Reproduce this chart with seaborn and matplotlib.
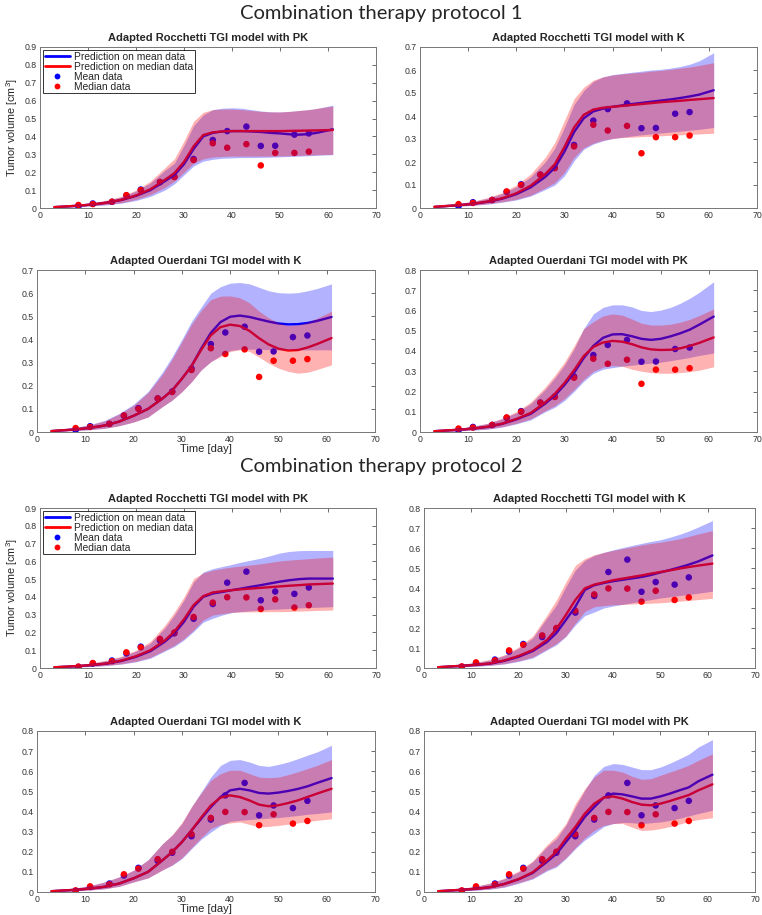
import numpy as np
import pandas as pd
import matplotlib
matplotlib.use("Agg")
import matplotlib.pyplot as plt
from matplotlib.lines import Line2D
import seaborn as sns

# ---------------------------------------------------------------- data
# measurement days
DAYS = [8, 11, 15, 18, 21, 25, 28, 32, 36, 39, 43, 46, 49, 53, 56]

# protocol 1 observations
P1_MEAN = [0.008, 0.025, 0.035, 0.07, 0.103, 0.145, 0.175, 0.274, 0.38, 0.43, 0.455, 0.347, 0.348, 0.41, 0.417]
P1_MEDIAN = [0.017, 0.022, 0.035, 0.072, 0.1, 0.145, 0.173, 0.268, 0.362, 0.337, 0.357, 0.238, 0.308, 0.308, 0.315]

# protocol 2 observations
P2_MEAN = [0.006, 0.025, 0.042, 0.082, 0.12, 0.155, 0.195, 0.277, 0.36, 0.48, 0.542, 0.381, 0.43, 0.417, 0.453]
P2_MEDIAN = [0.008, 0.028, 0.038, 0.088, 0.116, 0.163, 0.2, 0.287, 0.368, 0.398, 0.397, 0.332, 0.386, 0.34, 0.353]

# model output time grid
T = [3, 5, 8, 11, 14, 17, 20, 23, 26, 28, 30, 32, 34, 36, 38, 40, 42, 44, 46, 48, 50, 52, 54, 56, 58, 61]

# Protocol 1, Rocchetti with PK
A_MEAN = [0.005, 0.008, 0.013, 0.02, 0.03, 0.045, 0.068, 0.1, 0.15, 0.185, 0.245, 0.33, 0.4, 0.42, 0.428, 0.43, 0.43, 0.428, 0.425, 0.42, 0.417, 0.412, 0.41, 0.413, 0.422, 0.44]
A_MED = [0.005, 0.008, 0.013, 0.02, 0.03, 0.046, 0.07, 0.105, 0.157, 0.195, 0.258, 0.345, 0.408, 0.423, 0.428, 0.43, 0.43, 0.43, 0.43, 0.43, 0.43, 0.431, 0.432, 0.433, 0.434, 0.436]
A_MEAN_HI = [0.008, 0.012, 0.019, 0.028, 0.042, 0.062, 0.095, 0.14, 0.21, 0.25, 0.35, 0.46, 0.52, 0.55, 0.558, 0.56, 0.558, 0.55, 0.542, 0.538, 0.537, 0.54, 0.545, 0.55, 0.558, 0.575]
A_MED_HI = [0.008, 0.012, 0.02, 0.03, 0.045, 0.066, 0.1, 0.15, 0.225, 0.275, 0.375, 0.485, 0.535, 0.55, 0.553, 0.553, 0.55, 0.545, 0.54, 0.537, 0.537, 0.54, 0.545, 0.55, 0.558, 0.57]
A_MEAN_LO = [0.003, 0.005, 0.008, 0.012, 0.018, 0.027, 0.042, 0.065, 0.1, 0.135, 0.185, 0.235, 0.262, 0.272, 0.278, 0.28, 0.282, 0.282, 0.283, 0.284, 0.286, 0.288, 0.29, 0.292, 0.295, 0.298]
A_MED_LO = [0.003, 0.005, 0.008, 0.013, 0.02, 0.03, 0.048, 0.075, 0.115, 0.15, 0.2, 0.25, 0.275, 0.285, 0.288, 0.29, 0.29, 0.29, 0.29, 0.29, 0.291, 0.292, 0.294, 0.296, 0.298, 0.3]

# Protocol 1, Rocchetti with K
B_MEAN = [0.005, 0.008, 0.012, 0.018, 0.027, 0.04, 0.06, 0.09, 0.135, 0.175, 0.245, 0.33, 0.39, 0.42, 0.432, 0.44, 0.446, 0.452, 0.457, 0.462, 0.467, 0.472, 0.478, 0.485, 0.493, 0.512]
B_MED = [0.005, 0.008, 0.012, 0.018, 0.028, 0.042, 0.064, 0.097, 0.147, 0.19, 0.265, 0.35, 0.405, 0.428, 0.436, 0.44, 0.444, 0.448, 0.452, 0.456, 0.46, 0.463, 0.466, 0.47, 0.473, 0.478]
B_MEAN_HI = [0.008, 0.012, 0.019, 0.028, 0.042, 0.062, 0.092, 0.135, 0.2, 0.26, 0.35, 0.45, 0.51, 0.55, 0.57, 0.58, 0.585, 0.59, 0.595, 0.6, 0.603, 0.608, 0.615, 0.625, 0.64, 0.675]
B_MED_HI = [0.008, 0.013, 0.02, 0.03, 0.045, 0.066, 0.1, 0.148, 0.22, 0.285, 0.38, 0.475, 0.525, 0.556, 0.57, 0.578, 0.583, 0.587, 0.59, 0.595, 0.598, 0.603, 0.608, 0.613, 0.62, 0.632]
B_MEAN_LO = [0.003, 0.005, 0.008, 0.012, 0.017, 0.025, 0.035, 0.052, 0.08, 0.1, 0.14, 0.205, 0.255, 0.278, 0.292, 0.302, 0.308, 0.313, 0.318, 0.322, 0.326, 0.33, 0.334, 0.338, 0.342, 0.35]
B_MED_LO = [0.003, 0.005, 0.008, 0.012, 0.018, 0.027, 0.038, 0.056, 0.087, 0.11, 0.155, 0.22, 0.262, 0.282, 0.295, 0.302, 0.306, 0.308, 0.31, 0.312, 0.314, 0.316, 0.318, 0.32, 0.322, 0.325]

# Protocol 1, Ouerdani with K
C_MEAN = [0.004, 0.007, 0.011, 0.018, 0.028, 0.045, 0.07, 0.1, 0.145, 0.18, 0.23, 0.285, 0.36, 0.428, 0.475, 0.498, 0.503, 0.497, 0.487, 0.477, 0.469, 0.465, 0.466, 0.471, 0.48, 0.497]
C_MED = [0.004, 0.007, 0.011, 0.018, 0.028, 0.045, 0.07, 0.1, 0.145, 0.18, 0.23, 0.285, 0.355, 0.418, 0.453, 0.464, 0.458, 0.437, 0.405, 0.378, 0.36, 0.352, 0.354, 0.365, 0.38, 0.406]
C_MEAN_HI = [0.007, 0.012, 0.02, 0.032, 0.05, 0.08, 0.12, 0.175, 0.26, 0.326, 0.4, 0.478, 0.54, 0.6, 0.628, 0.643, 0.646, 0.64, 0.625, 0.61, 0.602, 0.6, 0.602, 0.61, 0.62, 0.64]
C_MED_HI = [0.007, 0.012, 0.02, 0.031, 0.048, 0.077, 0.115, 0.17, 0.25, 0.315, 0.39, 0.465, 0.525, 0.572, 0.587, 0.588, 0.58, 0.558, 0.522, 0.493, 0.472, 0.46, 0.463, 0.474, 0.492, 0.522]
C_MEAN_LO = [0.002, 0.004, 0.006, 0.01, 0.016, 0.027, 0.043, 0.065, 0.11, 0.138, 0.174, 0.217, 0.268, 0.304, 0.33, 0.352, 0.358, 0.358, 0.357, 0.356, 0.355, 0.355, 0.355, 0.355, 0.355, 0.355]
C_MED_LO = [0.002, 0.004, 0.006, 0.01, 0.016, 0.027, 0.043, 0.065, 0.11, 0.138, 0.174, 0.217, 0.268, 0.304, 0.326, 0.348, 0.355, 0.348, 0.323, 0.297, 0.276, 0.262, 0.254, 0.258, 0.27, 0.29]

# Protocol 1, Ouerdani with PK
D_MEAN = [0.004, 0.007, 0.011, 0.017, 0.025, 0.04, 0.062, 0.09, 0.14, 0.18, 0.232, 0.292, 0.365, 0.425, 0.465, 0.482, 0.483, 0.473, 0.46, 0.455, 0.46, 0.472, 0.487, 0.505, 0.53, 0.57]
D_MED = [0.004, 0.007, 0.011, 0.017, 0.026, 0.041, 0.064, 0.094, 0.146, 0.188, 0.242, 0.305, 0.375, 0.42, 0.442, 0.45, 0.446, 0.434, 0.418, 0.408, 0.405, 0.406, 0.413, 0.425, 0.44, 0.467]
D_MEAN_HI = [0.007, 0.011, 0.018, 0.028, 0.042, 0.065, 0.095, 0.14, 0.21, 0.267, 0.33, 0.41, 0.51, 0.583, 0.615, 0.628, 0.628, 0.618, 0.6, 0.595, 0.602, 0.615, 0.635, 0.66, 0.69, 0.742]
D_MED_HI = [0.007, 0.011, 0.018, 0.028, 0.043, 0.067, 0.1, 0.148, 0.222, 0.28, 0.345, 0.425, 0.51, 0.545, 0.573, 0.583, 0.577, 0.558, 0.537, 0.528, 0.528, 0.532, 0.542, 0.556, 0.575, 0.608]
D_MEAN_LO = [0.002, 0.004, 0.006, 0.009, 0.014, 0.024, 0.04, 0.06, 0.1, 0.122, 0.155, 0.2, 0.25, 0.29, 0.31, 0.318, 0.325, 0.33, 0.335, 0.34, 0.345, 0.352, 0.36, 0.368, 0.378, 0.39]
D_MED_LO = [0.002, 0.004, 0.006, 0.01, 0.015, 0.026, 0.043, 0.065, 0.105, 0.13, 0.165, 0.21, 0.26, 0.3, 0.32, 0.328, 0.325, 0.31, 0.3, 0.293, 0.29, 0.29, 0.293, 0.298, 0.305, 0.322]

# Protocol 2, Rocchetti with PK
E_MEAN = [0.004, 0.007, 0.011, 0.017, 0.025, 0.04, 0.063, 0.095, 0.148, 0.195, 0.26, 0.345, 0.4, 0.419, 0.428, 0.438, 0.447, 0.457, 0.466, 0.476, 0.486, 0.494, 0.5, 0.503, 0.503, 0.503]
E_MED = [0.004, 0.007, 0.011, 0.017, 0.026, 0.042, 0.066, 0.1, 0.155, 0.205, 0.274, 0.354, 0.404, 0.425, 0.432, 0.438, 0.443, 0.447, 0.451, 0.455, 0.459, 0.463, 0.466, 0.47, 0.472, 0.475]
E_MEAN_HI = [0.007, 0.011, 0.018, 0.028, 0.042, 0.063, 0.095, 0.14, 0.225, 0.298, 0.382, 0.484, 0.54, 0.559, 0.571, 0.583, 0.596, 0.607, 0.618, 0.632, 0.647, 0.656, 0.66, 0.661, 0.661, 0.661]
E_MED_HI = [0.007, 0.012, 0.019, 0.03, 0.045, 0.067, 0.1, 0.15, 0.24, 0.315, 0.4, 0.503, 0.535, 0.55, 0.56, 0.568, 0.574, 0.58, 0.586, 0.594, 0.602, 0.607, 0.611, 0.615, 0.619, 0.624]
E_MEAN_LO = [0.002, 0.004, 0.006, 0.009, 0.014, 0.022, 0.035, 0.055, 0.095, 0.121, 0.158, 0.205, 0.258, 0.28, 0.298, 0.312, 0.318, 0.322, 0.326, 0.33, 0.332, 0.335, 0.338, 0.34, 0.342, 0.345]
E_MED_LO = [0.002, 0.004, 0.006, 0.01, 0.015, 0.024, 0.038, 0.06, 0.1, 0.128, 0.165, 0.214, 0.27, 0.298, 0.306, 0.313, 0.315, 0.316, 0.316, 0.317, 0.317, 0.318, 0.32, 0.322, 0.324, 0.326]

# Protocol 2, Rocchetti with K
F_MEAN = [0.004, 0.007, 0.011, 0.016, 0.022, 0.036, 0.056, 0.085, 0.13, 0.175, 0.24, 0.306, 0.39, 0.414, 0.425, 0.434, 0.441, 0.448, 0.455, 0.465, 0.478, 0.49, 0.503, 0.517, 0.533, 0.563]
F_MED = [0.004, 0.007, 0.011, 0.016, 0.023, 0.038, 0.06, 0.09, 0.14, 0.195, 0.265, 0.34, 0.398, 0.417, 0.428, 0.439, 0.447, 0.455, 0.463, 0.472, 0.48, 0.488, 0.497, 0.505, 0.512, 0.522]
F_MEAN_HI = [0.007, 0.011, 0.018, 0.027, 0.04, 0.062, 0.099, 0.15, 0.25, 0.315, 0.406, 0.489, 0.538, 0.563, 0.578, 0.591, 0.602, 0.613, 0.623, 0.633, 0.641, 0.654, 0.668, 0.685, 0.705, 0.737]
F_MED_HI = [0.007, 0.012, 0.019, 0.029, 0.043, 0.066, 0.105, 0.16, 0.265, 0.34, 0.43, 0.513, 0.547, 0.566, 0.578, 0.588, 0.597, 0.606, 0.615, 0.623, 0.629, 0.637, 0.646, 0.658, 0.67, 0.687]
F_MEAN_LO = [0.002, 0.004, 0.006, 0.009, 0.013, 0.02, 0.033, 0.05, 0.09, 0.116, 0.157, 0.215, 0.262, 0.28, 0.3, 0.31, 0.318, 0.326, 0.334, 0.342, 0.35, 0.356, 0.362, 0.368, 0.374, 0.384]
F_MED_LO = [0.002, 0.004, 0.006, 0.01, 0.014, 0.022, 0.036, 0.055, 0.095, 0.122, 0.16, 0.224, 0.282, 0.306, 0.312, 0.316, 0.318, 0.32, 0.322, 0.324, 0.326, 0.33, 0.334, 0.338, 0.342, 0.348]

# Protocol 2, Ouerdani with K
G_MEAN = [0.004, 0.007, 0.011, 0.017, 0.026, 0.042, 0.068, 0.1, 0.158, 0.199, 0.248, 0.306, 0.364, 0.422, 0.472, 0.505, 0.513, 0.505, 0.492, 0.489, 0.494, 0.502, 0.512, 0.525, 0.542, 0.566]
G_MED = [0.004, 0.007, 0.011, 0.017, 0.026, 0.042, 0.068, 0.1, 0.158, 0.199, 0.248, 0.306, 0.37, 0.43, 0.469, 0.48, 0.472, 0.455, 0.434, 0.426, 0.431, 0.442, 0.455, 0.472, 0.489, 0.513]
G_MEAN_HI = [0.007, 0.012, 0.02, 0.032, 0.05, 0.075, 0.108, 0.16, 0.24, 0.282, 0.34, 0.422, 0.497, 0.571, 0.629, 0.654, 0.658, 0.646, 0.629, 0.624, 0.634, 0.646, 0.662, 0.68, 0.696, 0.729]
G_MED_HI = [0.007, 0.012, 0.02, 0.032, 0.05, 0.075, 0.108, 0.16, 0.24, 0.285, 0.345, 0.425, 0.492, 0.555, 0.588, 0.605, 0.605, 0.588, 0.571, 0.568, 0.571, 0.583, 0.597, 0.613, 0.629, 0.658]
G_MEAN_LO = [0.002, 0.004, 0.006, 0.01, 0.016, 0.028, 0.05, 0.07, 0.11, 0.133, 0.166, 0.215, 0.262, 0.298, 0.33, 0.351, 0.356, 0.36, 0.364, 0.367, 0.37, 0.375, 0.38, 0.386, 0.39, 0.398]
G_MED_LO = [0.002, 0.004, 0.006, 0.01, 0.016, 0.028, 0.05, 0.07, 0.11, 0.135, 0.17, 0.22, 0.27, 0.315, 0.335, 0.343, 0.348, 0.336, 0.323, 0.326, 0.331, 0.337, 0.343, 0.35, 0.356, 0.364]

# Protocol 2, Ouerdani with PK
H_MEAN = [0.004, 0.007, 0.011, 0.016, 0.024, 0.04, 0.063, 0.095, 0.15, 0.19, 0.248, 0.306, 0.373, 0.422, 0.469, 0.489, 0.485, 0.475, 0.464, 0.464, 0.475, 0.489, 0.505, 0.52, 0.55, 0.583]
H_MED = [0.004, 0.007, 0.011, 0.016, 0.024, 0.04, 0.064, 0.098, 0.157, 0.2, 0.265, 0.323, 0.389, 0.439, 0.469, 0.475, 0.464, 0.447, 0.434, 0.431, 0.439, 0.452, 0.467, 0.482, 0.505, 0.535]
H_MEAN_HI = [0.007, 0.011, 0.018, 0.028, 0.043, 0.066, 0.1, 0.15, 0.225, 0.265, 0.331, 0.422, 0.505, 0.58, 0.624, 0.638, 0.634, 0.621, 0.608, 0.608, 0.621, 0.64, 0.662, 0.685, 0.72, 0.757]
H_MED_HI = [0.007, 0.012, 0.019, 0.029, 0.045, 0.068, 0.104, 0.155, 0.235, 0.28, 0.34, 0.439, 0.513, 0.571, 0.605, 0.605, 0.596, 0.575, 0.56, 0.563, 0.58, 0.596, 0.612, 0.63, 0.654, 0.687]
H_MEAN_LO = [0.002, 0.004, 0.006, 0.009, 0.014, 0.024, 0.043, 0.065, 0.105, 0.124, 0.166, 0.215, 0.258, 0.29, 0.325, 0.34, 0.346, 0.344, 0.34, 0.344, 0.348, 0.356, 0.366, 0.378, 0.39, 0.406]
H_MED_LO = [0.002, 0.004, 0.006, 0.01, 0.015, 0.026, 0.046, 0.068, 0.11, 0.13, 0.17, 0.22, 0.268, 0.306, 0.331, 0.34, 0.34, 0.322, 0.306, 0.308, 0.315, 0.325, 0.337, 0.35, 0.36, 0.369]

TITLES = ["Adapted Rocchetti TGI model with PK", "Adapted Rocchetti TGI model with K",
          "Adapted Ouerdani TGI model with K", "Adapted Ouerdani TGI model with PK"]
SECTION_TITLES = ["Combination therapy protocol 1", "Combination therapy protocol 2"]
LEGEND_LABELS = ["Prediction on mean data", "Prediction on median data", "Mean data", "Median data"]
YMAX = [0.9, 0.7, 0.7, 0.8, 0.9, 0.8, 0.8, 0.8]

# ---------------------------------------------------------------- style
sns.set_style("white")
plt.rcParams["font.family"] = ["Liberation Sans", "DejaVu Sans"]
plt.rcParams["mathtext.fontset"] = "custom"
plt.rcParams["mathtext.rm"] = "Liberation Sans"

BLUE = "#0000ff"
RED = "#ff0000"
W, H = 762, 915

fig = plt.figure(figsize=(W / 100, H / 100), dpi=100)


def box(x0, x1, ytop, ybot):
    return [x0 / W, 1 - ybot / H, (x1 - x0) / W, (ybot - ytop) / H]


# axes rectangles (pixels): left, right, top, bottom
RECTS = [
    (40, 376, 47, 208), (420, 757, 47, 208),
    (37, 375, 270, 432), (420, 757, 270, 432),
    (40, 376, 508, 668), (424, 755, 508, 668),
    (37, 375, 731, 892), (424, 755, 731, 892),
]

PANELS = [
    (A_MEAN, A_MED, A_MEAN_LO, A_MEAN_HI, A_MED_LO, A_MED_HI, P1_MEAN, P1_MEDIAN),
    (B_MEAN, B_MED, B_MEAN_LO, B_MEAN_HI, B_MED_LO, B_MED_HI, P1_MEAN, P1_MEDIAN),
    (C_MEAN, C_MED, C_MEAN_LO, C_MEAN_HI, C_MED_LO, C_MED_HI, P1_MEAN, P1_MEDIAN),
    (D_MEAN, D_MED, D_MEAN_LO, D_MEAN_HI, D_MED_LO, D_MED_HI, P1_MEAN, P1_MEDIAN),
    (E_MEAN, E_MED, E_MEAN_LO, E_MEAN_HI, E_MED_LO, E_MED_HI, P2_MEAN, P2_MEDIAN),
    (F_MEAN, F_MED, F_MEAN_LO, F_MEAN_HI, F_MED_LO, F_MED_HI, P2_MEAN, P2_MEDIAN),
    (G_MEAN, G_MED, G_MEAN_LO, G_MEAN_HI, G_MED_LO, G_MED_HI, P2_MEAN, P2_MEDIAN),
    (H_MEAN, H_MED, H_MEAN_LO, H_MEAN_HI, H_MED_LO, H_MED_HI, P2_MEAN, P2_MEDIAN),
]

for i, (rect, panel) in enumerate(zip(RECTS, PANELS)):
    mean_c, med_c, mean_lo, mean_hi, med_lo, med_hi, obs_mean, obs_med = panel
    ax = fig.add_axes(box(*rect))

    curves = pd.DataFrame({"day": T, "mean": mean_c, "median": med_c})
    obs = pd.DataFrame({"day": DAYS, "mean": obs_mean, "median": obs_med})

    # data and prediction lines sit underneath the translucent bands
    sns.scatterplot(data=obs, x="day", y="mean", ax=ax, color=BLUE, s=22,
                    edgecolor="none", zorder=2, legend=False)
    sns.scatterplot(data=obs, x="day", y="median", ax=ax, color=RED, s=22,
                    edgecolor="none", zorder=2, legend=False)
    sns.lineplot(data=curves, x="day", y="mean", ax=ax, color=BLUE, lw=1.7, zorder=2)
    sns.lineplot(data=curves, x="day", y="median", ax=ax, color=RED, lw=1.7, zorder=2)
    ax.fill_between(T, mean_lo, mean_hi, color=BLUE, alpha=0.3, lw=0, zorder=3)
    ax.fill_between(T, med_lo, med_hi, color=RED, alpha=0.3, lw=0, zorder=4)

    ax.set_xlim(0, 70)
    ax.set_ylim(0, YMAX[i])
    ax.set_xticks(np.arange(0, 71, 10))
    ax.set_yticks(np.round(np.arange(0, YMAX[i] + 0.001, 0.1), 1))
    ax.set_yticklabels(["0" if v == 0 else f"{v:g}" for v in ax.get_yticks()])
    ax.tick_params(direction="in", top=True, right=True, length=3, width=0.6,
                   labelsize=6.3, labelcolor="#333333", color="#555555", pad=2.5)
    for s in ax.spines.values():
        s.set_color("#777777")
        s.set_linewidth(0.7)
    ax.set_title(TITLES[i % 4], fontsize=8, fontweight="bold", pad=4)
    ax.set_xlabel("")
    ax.set_ylabel("")

    if i in (0, 4):
        ax.set_ylabel("Tumor volume [cm$^3$]", fontsize=7.8, labelpad=3)
        handles = [
            Line2D([], [], color=BLUE, lw=2),
            Line2D([], [], color=RED, lw=2),
            Line2D([], [], color=BLUE, marker="o", ls="none", ms=4.2, mec="none"),
            Line2D([], [], color=RED, marker="o", ls="none", ms=4.2, mec="none"),
        ]
        leg = ax.legend(handles, LEGEND_LABELS, loc="upper left", fontsize=7.4,
                        frameon=True, fancybox=False, edgecolor="black",
                        borderpad=0.15, labelspacing=0.0, handlelength=2.5,
                        handletextpad=0.35, borderaxespad=0.3)
        leg.get_frame().set_linewidth(0.7)
    if i in (2, 6):
        ax.set_xlabel("Time [day]", fontsize=8, labelpad=0)

fig.text(381 / W, 1 - 13 / H, SECTION_TITLES[0], ha="center", va="center",
         fontsize=14.5, family=["Lato", "DejaVu Sans"])
fig.text(381 / W, 1 - 467 / H, SECTION_TITLES[1], ha="center", va="center",
         fontsize=14.5, family=["Lato", "DejaVu Sans"])

fig.savefig("out.png", dpi=100)
